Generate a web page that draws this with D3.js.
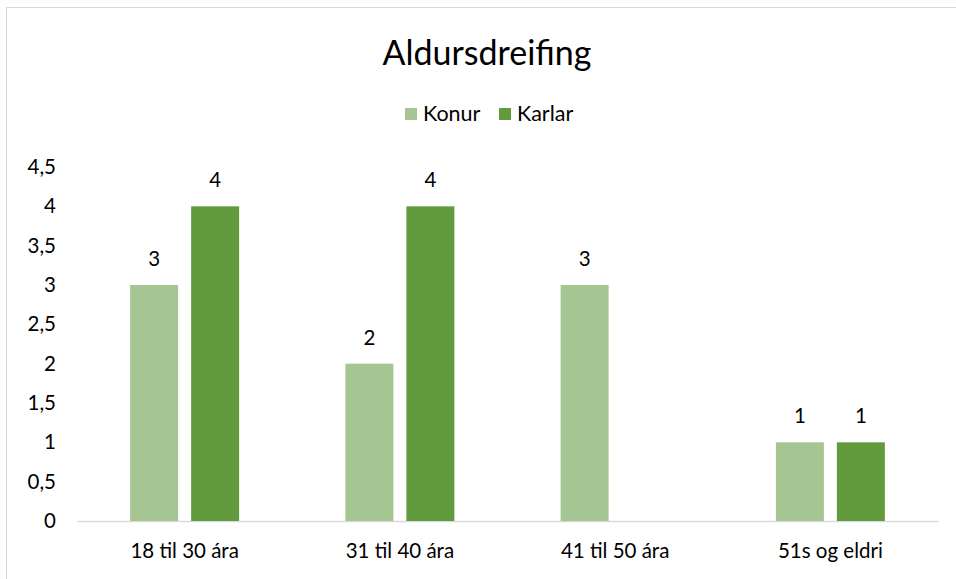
<!DOCTYPE html>
<html><head><meta charset="utf-8">
<script src="https://cdn.jsdelivr.net/npm/d3@7"></script>
<style>body{margin:0;background:#fff}svg{display:block}</style>
</head><body>
<script>
const title = "Aldursdreifing";
const categories = ["18 til 30 ára", "31 til 40 ára", "41 til 50 ára", "51s og eldri"];
const seriesNames = ["Konur", "Karlar"];
const konur = [3, 2, 3, 1];
const karlar = [4, 4, null, 1];
const yTicks = [0, 0.5, 1, 1.5, 2, 2.5, 3, 3.5, 4, 4.5];
const colors = ["#A5C592", "#629B3E"];

const W = 956, H = 579;
const font = "Lato, 'Open Sans', sans-serif";
const svg = d3.select("body").append("svg").attr("width", W).attr("height", H);
svg.append("rect").attr("x", 6.5).attr("y", 7.5).attr("width", W + 10).attr("height", H + 10)
  .attr("fill", "#fff").attr("stroke", "#D9D9D9").attr("stroke-width", 1);

const m = {left: 77, right: 938, top: 167, bottom: 521};
const x = d3.scaleBand().domain(categories).range([m.left, m.right]);
const y = d3.scaleLinear().domain([0, 4.5]).range([m.bottom, m.top]);
const barW = 48, gap = 13;
const xs = d3.scaleBand().domain(seriesNames).range([0, barW * 2 + gap]).paddingInner(gap / (barW + gap));

svg.append("text").attr("x", 487).attr("y", 65).attr("text-anchor", "middle")
  .attr("font-family", font).attr("font-size", 34).attr("fill", "#000").text(title);

// legend
const leg = [{n: seriesNames[0], x: 405}, {n: seriesNames[1], x: 499}];
leg.forEach((l, i) => {
  svg.append("rect").attr("x", l.x).attr("y", 108).attr("width", 12).attr("height", 12).attr("fill", colors[i]);
  svg.append("text").attr("x", l.x + 18).attr("y", 121).attr("font-family", font).attr("font-size", 21.5)
    .attr("fill", "#000").text(l.n);
});

// y axis labels
const yAxis = d3.axisLeft(y).tickValues(yTicks).tickSize(0).tickPadding(0)
  .tickFormat(d => d3.format("")(d).replace(".", ","));
const gy = svg.append("g").attr("transform", `translate(56,0)`).call(yAxis);
gy.select(".domain").remove();
gy.selectAll("text").attr("font-family", font).attr("font-size", 20.5).attr("fill", "#000");

// x axis
const xAxis = d3.axisBottom(x).tickSize(0).tickPadding(22);
const gx = svg.append("g").attr("transform", `translate(0,${m.bottom})`).call(xAxis);
gx.select(".domain").attr("stroke", "#D9D9D9").attr("stroke-width", 1.5);
gx.selectAll("text").attr("font-family", font).attr("font-size", 20.5).attr("fill", "#000");

const data = [];
categories.forEach((c, i) => {
  data.push({c, s: seriesNames[0], v: konur[i], col: colors[0]});
  data.push({c, s: seriesNames[1], v: karlar[i], col: colors[1]});
});
const valid = data.filter(d => d.v != null);
const groupOffset = (x.bandwidth() - (barW * 2 + gap)) / 2;
svg.append("g").selectAll("rect").data(valid).join("rect")
  .attr("x", d => x(d.c) + groupOffset + xs(d.s))
  .attr("y", d => y(d.v))
  .attr("width", xs.bandwidth())
  .attr("height", d => y(0) - y(d.v))
  .attr("fill", d => d.col);
svg.append("g").selectAll("text").data(valid).join("text")
  .attr("x", d => x(d.c) + groupOffset + xs(d.s) + xs.bandwidth() / 2)
  .attr("y", d => y(d.v) - 19)
  .attr("text-anchor", "middle").attr("font-family", font).attr("font-size", 20.5).attr("fill", "#000")
  .text(d => d.v);
</script>
</body></html>
